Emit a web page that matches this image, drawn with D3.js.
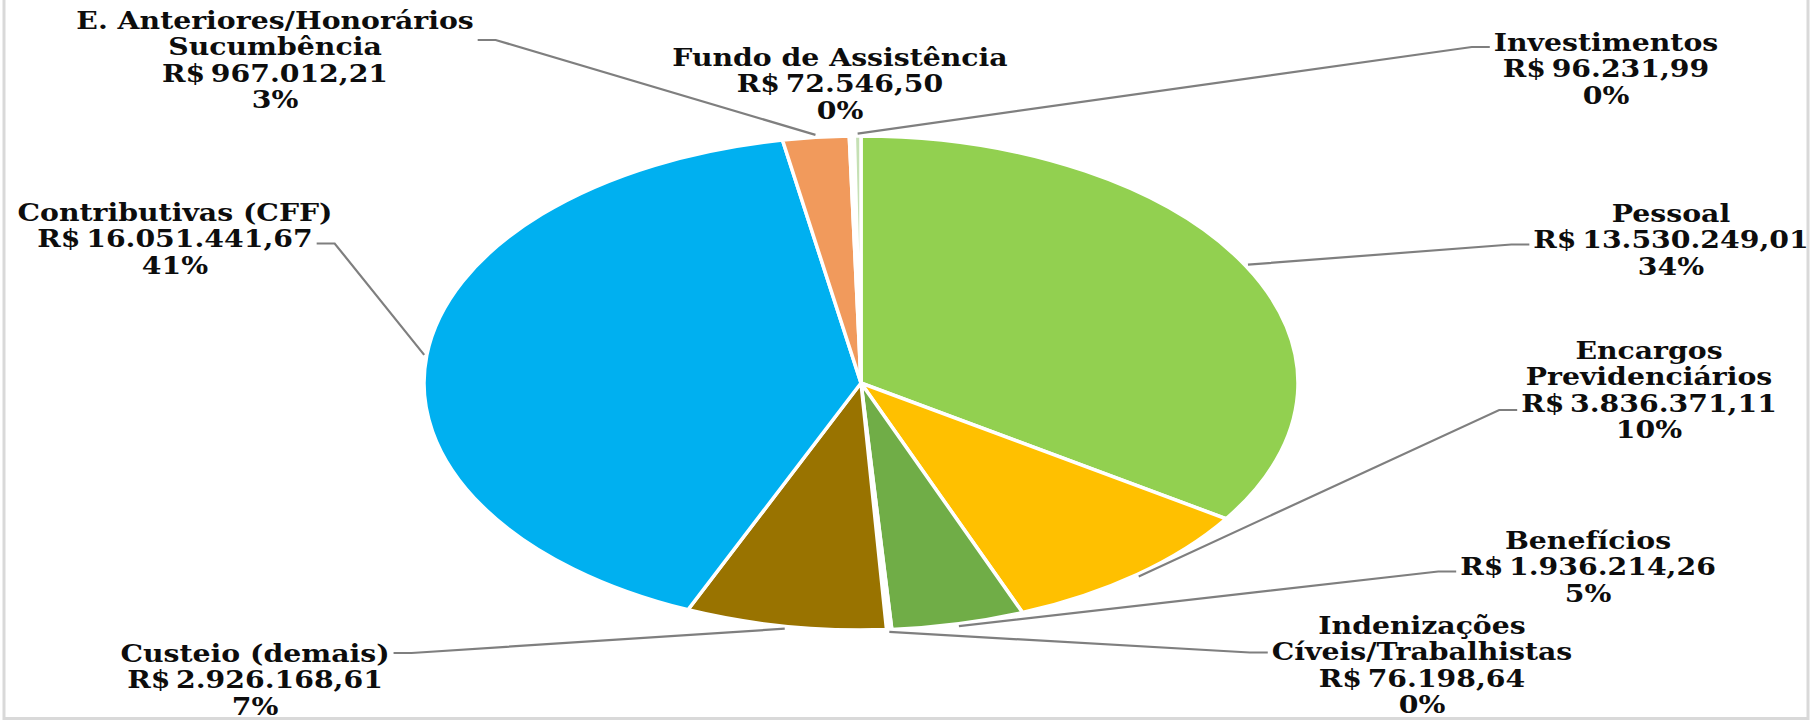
<!DOCTYPE html>
<html><head><meta charset="utf-8">
<script src="https://cdn.jsdelivr.net/npm/d3@7"></script>
<style>body{margin:0;background:#fff} svg{display:block}</style>
</head><body><svg id="c" width="1819" height="721"></svg>
<script>
const categories = ["Pessoal", "Encargos Previdenciários", "Benefícios", "Indenizações Cíveis/Trabalhistas", "Custeio (demais)", "Contributivas (CFF)", "E. Anteriores/Honorários Sucumbência", "Fundo de Assistência", "Investimentos"];
const values = [13530249.01, 3836371.11, 1936214.26, 76198.64, 2926168.61, 16051441.67, 967012.21, 72546.50, 96231.99];
const percentLabels = ["34%", "10%", "5%", "0%", "7%", "41%", "3%", "0%", "0%"];
const nameLines = [["Pessoal"], ["Encargos", "Previdenciários"], ["Benefícios"], ["Indenizações", "Cíveis/Trabalhistas"], ["Custeio (demais)"], ["Contributivas (CFF)"], ["E. Anteriores/Honorários", "Sucumbência"], ["Fundo de Assistência"], ["Investimentos"]];
const colors = ["#92D050", "#FFC000", "#70AD47", "#FFFFFF", "#997300", "#00B0F0", "#F19A5C", "#FFFFFF", "#C5E0B4"];

const cx = 861, cy = 383, rx = 437, ry = 247;
const svg = d3.select("#c");
svg.append("rect").attr("x", 4).attr("y", -10).attr("width", 1804).attr("height", 728.5)
  .attr("fill", "#fff").attr("stroke", "#D9D9D9").attr("stroke-width", 3);

const pieData = d3.pie().sort(null).value(d => d)(values);
const arc = d3.arc().innerRadius(0).outerRadius(ry);
const g = svg.append("g").attr("transform", `translate(${cx},${cy}) scale(${rx / ry},1)`);
g.selectAll("path").data(pieData).join("path")
  .attr("d", arc).attr("fill", (d, i) => colors[i])
  .attr("stroke", "#fff").attr("stroke-width", 3.5).attr("vector-effect", "non-scaling-stroke");

const loc = d3.formatLocale({decimal: ",", thousands: ".", grouping: [3], currency: ["R$ ", ""]});
const fmt = loc.format(",.2f");

const layout = [
  {x: 1671, y: 213, att: {k: 1, side: "left", dy: 5}},
  {x: 1649, y: 350, att: {k: 2, side: "left", dy: 7}},
  {x: 1588, y: 540, att: {k: 1, side: "left", dy: 5}},
  {x: 1422, y: 625, att: {k: 1, side: "left", dy: 1}},
  {x: 255, y: 653, att: {k: 0, side: "right", dy: 0}},
  {x: 175, y: 212, att: {k: 1, side: "right", dy: 5}},
  {x: 275, y: 20, att: {k: 0, side: "right", dy: 20}},
  {x: 840, y: 57, att: null},
  {x: 1606, y: 42, att: {k: 0, side: "left", dy: 5}}
];
const lineH = 26.5, fontSize = 24;
const font = "'DejaVu Serif', serif";

// measure horizontal scale
const probe = svg.append("text").attr("font-family", font).attr("font-weight", "bold").attr("font-size", fontSize).text("Contributivas (CFF)");
const sx = 315 / probe.node().getComputedTextLength();
probe.remove();

const leaders = svg.append("g");
const labels = svg.append("g");
pieData.forEach((d, i) => {
  const L = layout[i];
  const lines = nameLines[i].concat(["R$\u2009" + fmt(values[i]), percentLabels[i]]);
  const widths = [];
  lines.forEach((t, j) => {
    const te = labels.append("text")
      .attr("transform", `translate(${L.x},${L.y + j * lineH}) scale(${sx},1)`)
      .attr("text-anchor", "middle").attr("dominant-baseline", "central")
      .attr("font-family", font).attr("font-weight", "bold").attr("font-size", fontSize)
      .attr("fill", "#0d0d0d").text(t);
    widths.push(te.node().getComputedTextLength() * sx);
  });
  if (L.att) {
    const a = (d.startAngle + d.endAngle) / 2;
    const ex = cx + rx * Math.sin(a) * 1.006, ey = cy - ry * Math.cos(a) * 1.01;
    const w = widths[L.att.k];
    const sy = L.y + L.att.k * lineH + L.att.dy;
    const sgn = L.att.side === "left" ? -1 : 1;
    const x0 = L.x + sgn * (w / 2 + 4), x1 = x0 + sgn * 18;
    leaders.append("path").attr("d", `M${x0},${sy}L${x1},${sy}L${ex},${ey}`)
      .attr("fill", "none").attr("stroke", "#7F7F7F").attr("stroke-width", 2.2);
  }
});
</script></body></html>
